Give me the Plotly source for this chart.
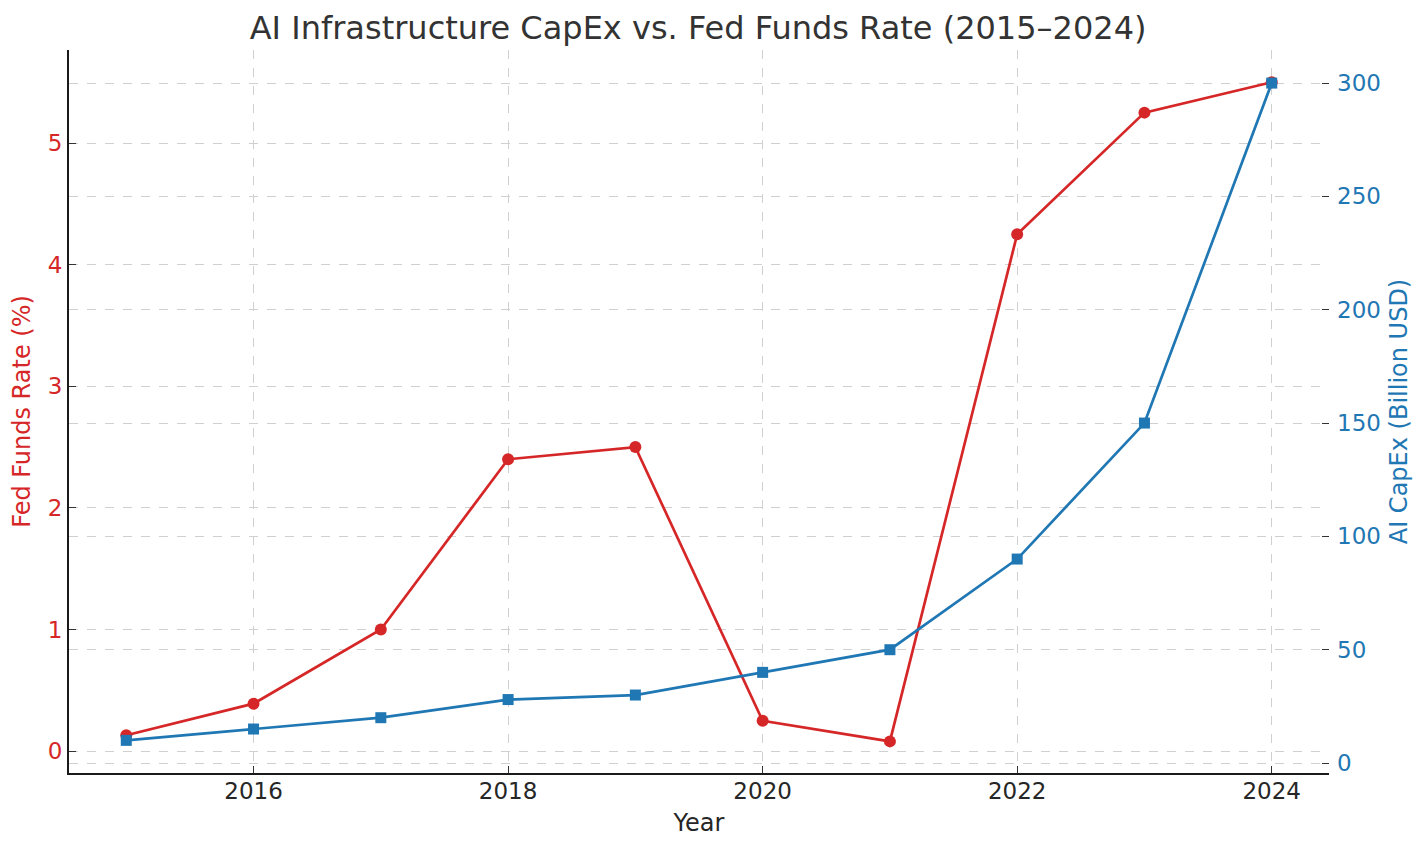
import plotly.graph_objects as go

years = [2015, 2016, 2017, 2018, 2019, 2020, 2021, 2022, 2023, 2024]
fed_funds = [0.13, 0.39, 1.00, 2.40, 2.50, 0.25, 0.08, 4.25, 5.25, 5.50]
ai_capex = [10, 15, 20, 28, 30, 40, 50, 90, 150, 300]

RED = "#d62728"
BLUE = "#1f77b4"
FONT = "DejaVu Sans"
GRID = "#d0d0d0"

fig = go.Figure()
fig.add_trace(go.Scatter(
    x=years, y=fed_funds, mode="lines+markers", name="Fed Funds Rate (%)",
    line=dict(color=RED, width=2.7), marker=dict(symbol="circle", size=12, color=RED),
    yaxis="y"))
fig.add_trace(go.Scatter(
    x=years, y=ai_capex, mode="lines+markers", name="AI CapEx (Billion USD)",
    line=dict(color=BLUE, width=2.7), marker=dict(symbol="square", size=11, color=BLUE),
    yaxis="y2"))

fig.update_layout(
    width=1420, height=843,
    margin=dict(l=61, r=99, t=42, b=78),
    paper_bgcolor="white", plot_bgcolor="white",
    showlegend=False,
    font=dict(family=FONT, size=23, color="#262626"),
    title=dict(text="AI Infrastructure CapEx vs. Fed Funds Rate (2015–2024)",
               x=0.486, xanchor="center", y=0.977, yanchor="middle",
               font=dict(family=FONT, size=32, color="#333333")),
    xaxis=dict(
        range=[2014.55, 2024.45], tickmode="array", tickvals=[2016, 2018, 2020, 2022, 2024],
        ticks="inside", ticklen=7, tickwidth=1.3, tickcolor="#333333",
        showline=True, linecolor="#1a1a1a", linewidth=2, mirror=False,
        showgrid=True, gridcolor=GRID, griddash="dash", gridwidth=1,
        zeroline=False, ticklabelstandoff=-4,
        title=dict(text="Year", standoff=12, font=dict(size=24, color="#262626")),
        tickfont=dict(size=23, color="#262626"),
    ),
    yaxis=dict(
        range=[-0.18, 5.765], tickmode="array", tickvals=[0, 1, 2, 3, 4, 5],
        ticks="inside", ticklen=7, tickwidth=1.3, tickcolor="#333333",
        showline=True, linecolor="#1a1a1a", linewidth=2,
        showgrid=True, gridcolor=GRID, griddash="dash", gridwidth=1,
        zeroline=False,
        title=dict(text="Fed Funds Rate (%)", standoff=10, font=dict(size=24, color=RED)),
        tickfont=dict(size=23, color=RED),
    ),
    yaxis2=dict(
        range=[-4.4, 314.6], tickmode="array", tickvals=[0, 50, 100, 150, 200, 250, 300],
        overlaying="y", side="right",
        ticks="inside", ticklen=7, tickwidth=1.3, tickcolor="#333333",
        showline=False,
        showgrid=True, gridcolor=GRID, griddash="dash", gridwidth=1,
        zeroline=False, ticklabelstandoff=7,
        title=dict(text="AI CapEx (Billion USD)", standoff=10, font=dict(size=24, color=BLUE)),
        tickfont=dict(size=23, color=BLUE),
    ),
)

fig.write_html("out.html")
